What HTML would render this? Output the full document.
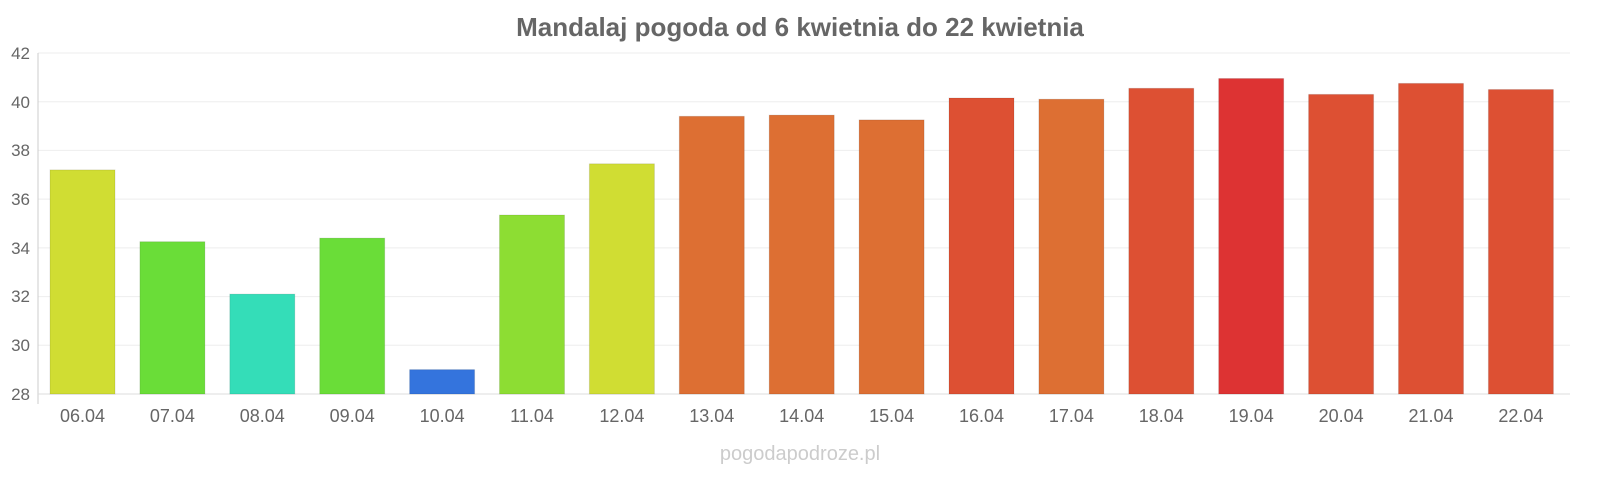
<!DOCTYPE html>
<html><head><meta charset="utf-8"><style>
body{margin:0;background:#fff;}
svg text{font-family:"Liberation Sans",sans-serif;}
</style></head><body>
<svg width="1600" height="480" xmlns="http://www.w3.org/2000/svg">
<text x="800" y="36" text-anchor="middle" font-size="26" font-weight="bold" fill="#666">Mandalaj pogoda od 6 kwietnia do 22 kwietnia</text>
<g stroke="#eee" stroke-width="1">
<line x1="38" x2="1570" y1="53" y2="53"/><line x1="38" x2="1570" y1="101.7" y2="101.7"/>
<line x1="38" x2="1570" y1="150.4" y2="150.4"/><line x1="38" x2="1570" y1="199.1" y2="199.1"/>
<line x1="38" x2="1570" y1="247.9" y2="247.9"/><line x1="38" x2="1570" y1="296.6" y2="296.6"/>
<line x1="38" x2="1570" y1="345.3" y2="345.3"/>
</g>
<line x1="38" x2="38" y1="53" y2="404" stroke="#ccc"/>
<line x1="38" x2="1570" y1="394" y2="394" stroke="#ddd"/>
<g font-size="17" fill="#666" text-anchor="end">
<text x="30" y="59">42</text><text x="30" y="108">40</text><text x="30" y="156">38</text>
<text x="30" y="205">36</text><text x="30" y="254">34</text><text x="30" y="302">32</text>
<text x="30" y="351">30</text><text x="30" y="400">28</text>
</g>
<g stroke="rgba(0,0,0,0.1)">
<rect x="50" y="169.9" width="65" height="224.1" fill="#d0dd33"/>
<rect x="139.9" y="241.7" width="65" height="152.3" fill="#6add38"/>
<rect x="229.8" y="294.1" width="65" height="99.9" fill="#34ddb8"/>
<rect x="319.7" y="238.1" width="65" height="155.9" fill="#6add38"/>
<rect x="409.6" y="369.6" width="65" height="24.4" fill="#3474dd"/>
<rect x="499.5" y="215" width="65" height="179" fill="#8ddd33"/>
<rect x="589.4" y="163.8" width="65" height="230.2" fill="#d0dd33"/>
<rect x="679.3" y="116.3" width="65" height="277.7" fill="#dd6f33"/>
<rect x="769.2" y="115.1" width="65" height="278.9" fill="#dd6f33"/>
<rect x="859.1" y="119.9" width="65" height="274.1" fill="#dd6f33"/>
<rect x="949" y="98" width="65" height="296" fill="#dd5033"/>
<rect x="1038.9" y="99.2" width="65" height="294.8" fill="#dd6f33"/>
<rect x="1128.8" y="88.3" width="65" height="305.7" fill="#dd5033"/>
<rect x="1218.7" y="78.5" width="65" height="315.5" fill="#dd3333"/>
<rect x="1308.6" y="94.4" width="65" height="299.6" fill="#dd5033"/>
<rect x="1398.5" y="83.4" width="65" height="310.6" fill="#dd5033"/>
<rect x="1488.4" y="89.5" width="65" height="304.5" fill="#dd5033"/>
</g>
<g font-size="18" fill="#666" text-anchor="middle">
<text x="82.5" y="422">06.04</text><text x="172.4" y="422">07.04</text><text x="262.3" y="422">08.04</text>
<text x="352.2" y="422">09.04</text><text x="442.1" y="422">10.04</text><text x="532" y="422">11.04</text>
<text x="621.9" y="422">12.04</text><text x="711.8" y="422">13.04</text><text x="801.7" y="422">14.04</text>
<text x="891.6" y="422">15.04</text><text x="981.5" y="422">16.04</text><text x="1071.4" y="422">17.04</text>
<text x="1161.3" y="422">18.04</text><text x="1251.2" y="422">19.04</text><text x="1341.1" y="422">20.04</text>
<text x="1431" y="422">21.04</text><text x="1520.9" y="422">22.04</text>
</g>
<text x="800" y="460" text-anchor="middle" font-size="20" fill="#ccc">pogodapodroze.pl</text>
</svg>
</body></html>
